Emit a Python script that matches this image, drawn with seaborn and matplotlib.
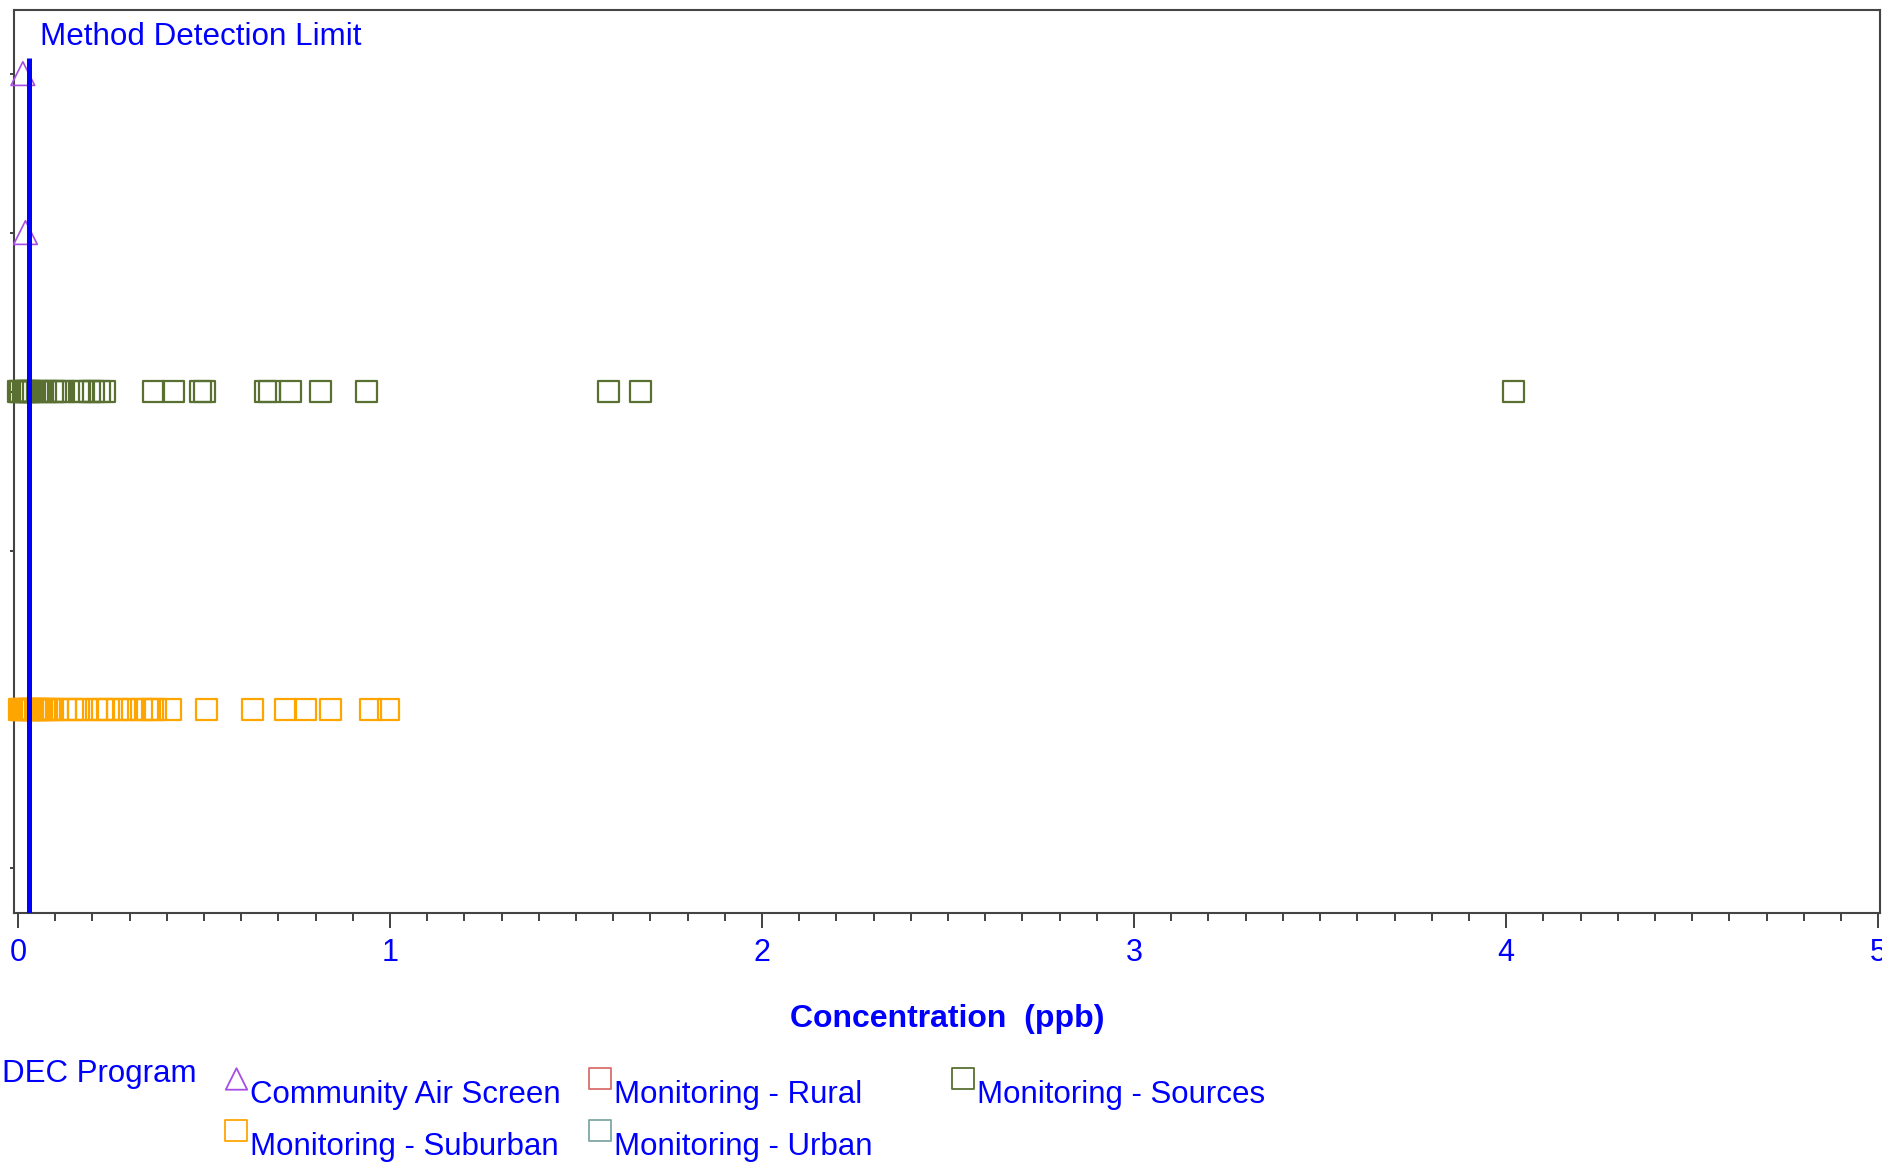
import numpy as np
import pandas as pd
import matplotlib
matplotlib.use("Agg")
import matplotlib.pyplot as plt
from matplotlib.lines import Line2D
from matplotlib.path import Path
from matplotlib.ticker import MultipleLocator
import seaborn as sns

# values (ppb), one row of the plot per site group
programs = ["Community Air Screen", "Monitoring - Rural", "Monitoring - Sources",
            "Monitoring - Suburban", "Monitoring - Urban"]
row_order = ["CAS A", "CAS B", "Sources", "Rural", "Suburban", "Urban"]

cas_a = [0.013]
cas_b = [0.02]
sources = [0.002, 0.005, 0.008, 0.014, 0.018, 0.024, 0.028, 0.034, 0.041, 0.052,
           0.064, 0.073, 0.092, 0.101, 0.113, 0.122, 0.164, 0.173, 0.191, 0.202,
           0.22, 0.232, 0.363, 0.417, 0.49, 0.5, 0.665, 0.675, 0.733, 0.814,
           0.937, 1.586, 1.672, 4.02]
suburban = [0.004, 0.008, 0.012, 0.016, 0.02, 0.025, 0.03, 0.035, 0.04, 0.046,
            0.052, 0.058, 0.064, 0.07, 0.077, 0.084, 0.093, 0.107, 0.127, 0.147,
            0.163, 0.183, 0.21, 0.228, 0.244, 0.268, 0.286, 0.308, 0.331, 0.349,
            0.362, 0.369, 0.411, 0.506, 0.631, 0.72, 0.772, 0.84, 0.948, 0.996]
rural = []
urban = []

mdl = 0.03

colors = {"Community Air Screen": "#A64DE6", "Monitoring - Rural": "#D9706E",
          "Monitoring - Sources": "#5A7032", "Monitoring - Suburban": "#FFA500",
          "Monitoring - Urban": "#7FA8A3"}
markers = {"Community Air Screen": "^", "Monitoring - Rural": "s",
           "Monitoring - Sources": "s", "Monitoring - Suburban": "s",
           "Monitoring - Urban": "s"}

frames = []
for vals, row, prog in [(cas_a, "CAS A", "Community Air Screen"),
                        (cas_b, "CAS B", "Community Air Screen"),
                        (sources, "Sources", "Monitoring - Sources"),
                        (rural, "Rural", "Monitoring - Rural"),
                        (suburban, "Suburban", "Monitoring - Suburban"),
                        (urban, "Urban", "Monitoring - Urban")]:
    frames.append(pd.DataFrame({"conc": vals, "row": row_order.index(row), "program": prog}))
df = pd.concat(frames, ignore_index=True)

sns.set_style("ticks")
plt.rcParams["font.family"] = ["Liberation Sans", "DejaVu Sans"]

fig = plt.figure(figsize=(18.83, 11.62), dpi=100)
ax = fig.add_axes([0.0074, 0.2143, 0.9910, 0.7771])

for prog in programs:
    sub = df[df["program"] == prog]
    if sub.empty:
        continue
    tri = markers[prog] == "^"
    sns.scatterplot(data=sub, x="conc", y="row", marker=markers[prog],
                    s=290 if tri else 230, facecolor="none", edgecolor=colors[prog],
                    linewidth=1.2 if tri else 1.6, ax=ax, clip_on=False, zorder=3)

ylo, yhi = -0.40, 5.28
ax.vlines(mdl, -0.1, yhi, color="blue", lw=3.6, zorder=4)
ax.annotate("Method Detection Limit", xy=(mdl, -0.1), xytext=(8, 9),
            textcoords="offset points", color="blue", fontsize=22.6, va="baseline")

ax.set_xlim(-0.011, 5.005)
ax.set_ylim(yhi, ylo)
ax.set_yticks(range(len(row_order)))
ax.set_yticklabels([])
ax.xaxis.set_major_locator(MultipleLocator(1))
ax.xaxis.set_minor_locator(MultipleLocator(0.1))
ax.tick_params(axis="x", which="major", length=11, width=1.3, colors="#333333",
               labelcolor="blue", labelsize=22, pad=7)
ax.tick_params(axis="x", which="minor", length=6, width=1.3, colors="#333333")
ax.tick_params(axis="y", length=3, width=1.3, colors="#333333")
for sp in ax.spines.values():
    sp.set_color("#444444")
    sp.set_linewidth(1.5)
ax.set_xlabel("Concentration  (ppb)", color="blue", fontsize=23, fontweight="bold", labelpad=26)
ax.set_ylabel("")

fig.text(0.001, 0.0755, "DEC Program", color="blue", fontsize=22.5, va="center", ha="left")

# legend symbols sit a little above the label, as in the original
c = 0.63
legend_paths = {
    "s": Path([(-0.5, c - 0.5), (0.5, c - 0.5), (0.5, c + 0.5), (-0.5, c + 0.5), (-0.5, c - 0.5)],
              [Path.MOVETO, Path.LINETO, Path.LINETO, Path.LINETO, Path.CLOSEPOLY]),
    "^": Path([(0, c + 0.5), (-0.5, c - 0.5), (0.5, c - 0.5), (0, c + 0.5)],
              [Path.MOVETO, Path.LINETO, Path.LINETO, Path.CLOSEPOLY]),
}

cols = [["Community Air Screen", "Monitoring - Suburban"],
        ["Monitoring - Rural", "Monitoring - Urban"],
        ["Monitoring - Sources"]]
col_x = [0.1205, 0.3135, 0.5065]
for cx, names in zip(col_x, cols):
    handles = [Line2D([], [], ls="none", marker=legend_paths[markers[n]], ms=35,
                      mfc="none", mec=colors[n], mew=1.3) for n in names]
    fig.legend(handles, names, loc="upper left", bbox_to_anchor=(cx, 0.0706),
               frameon=False, fontsize=22.5, labelcolor="blue", handlelength=0.6,
               handletextpad=0.15, labelspacing=0.69, borderpad=0, borderaxespad=0)

fig.savefig("out.png", dpi=100)
